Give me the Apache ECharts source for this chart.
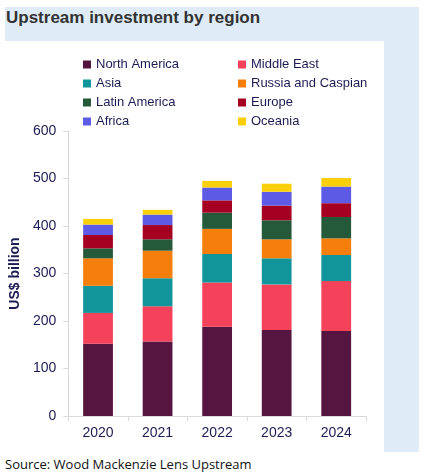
<!DOCTYPE html>
<html>
<head>
<meta charset="utf-8">
<script src="https://cdn.jsdelivr.net/npm/echarts@6/dist/echarts.min.js"></script>
<style>
  body { margin: 0; width: 424px; height: 475px; background: #fff; position: relative; overflow: hidden; font-family: Arial, "Liberation Sans", sans-serif; }
  #blue { position: absolute; left: 5px; top: 7px; width: 414px; height: 445px; background: #dfecf7; }
  #white { position: absolute; left: 5px; top: 41px; width: 379px; height: 411px; background: #fff; }
  #title { position: absolute; left: 6px; top: 8px; font-size: 17px; font-weight: bold; color: #333; }
  #source { position: absolute; left: 5px; top: 455px; font-size: 13px; color: #111; font-family: "Open Sans", sans-serif; }
  #main { position: absolute; left: 0; top: 0; width: 424px; height: 475px; }
</style>
</head>
<body>
<div id="blue"></div>
<div id="white"></div>
<div id="title">Upstream investment by region</div>
<div id="source">Source: Wood Mackenzie Lens Upstream</div>
<div id="main"></div>
<script>
// 数据
var years = ['2020', '2021', '2022', '2023', '2024'];
var northAmerica = [152, 157, 188, 181, 179];
var middleEast = [65, 74, 93, 96, 105];
var asia = [57, 59, 60, 55, 55];
var russiaCaspian = [58, 58, 53, 40, 35];
var latinAmerica = [21, 24, 34, 40, 45];
var europe = [28, 30, 26, 31, 29];
var africa = [22, 22, 27, 29, 35];
var oceania = [12, 10, 14, 17, 18];

var seriesList = [
    {name: 'North America', data: northAmerica, color: '#561440'},
    {name: 'Middle East', data: middleEast, color: '#f4425a'},
    {name: 'Asia', data: asia, color: '#11959a'},
    {name: 'Russia and Caspian', data: russiaCaspian, color: '#f57f0a'},
    {name: 'Latin America', data: latinAmerica, color: '#24593a'},
    {name: 'Europe', data: europe, color: '#a50022'},
    {name: 'Africa', data: africa, color: '#5d5ae6'},
    {name: 'Oceania', data: oceania, color: '#fbd00a'}
];

var legendText = {color: '#1c1c54', fontSize: 13, fontFamily: 'Arial'};
var chart = echarts.init(document.getElementById('main'));
var option = {
    animation: false,
    legend: [{
        data: ['North America', 'Asia', 'Latin America', 'Africa'],
        orient: 'vertical', left: 78, top: 53, itemGap: 6,
        itemWidth: 8, itemHeight: 8, icon: 'rect', textStyle: legendText
    }, {
        data: ['Middle East', 'Russia and Caspian', 'Europe', 'Oceania'],
        orient: 'vertical', left: 233, top: 53, itemGap: 6,
        itemWidth: 8, itemHeight: 8, icon: 'rect', textStyle: legendText
    }],
    grid: {left: 68, right: 58, top: 131, bottom: 59},
    xAxis: {
        type: 'category', data: years,
        axisLine: {lineStyle: {color: '#d9d9d9'}},
        axisTick: {show: true, lineStyle: {color: '#d9d9d9'}},
        axisLabel: {color: '#1c1c54', fontSize: 14, margin: 10}
    },
    yAxis: {
        type: 'value', min: 0, max: 600, interval: 100,
        name: 'US$ billion', nameLocation: 'middle', nameGap: 40,
        nameTextStyle: {fontWeight: 'bold', fontSize: 14, color: '#1c1c54'},
        axisLine: {show: true, lineStyle: {color: '#d9d9d9'}},
        axisTick: {show: true, lineStyle: {color: '#d9d9d9'}},
        axisLabel: {color: '#1c1c54', fontSize: 14, margin: 12},
        splitLine: {show: false}
    },
    series: seriesList.map(function (s) {
        return {
            name: s.name, type: 'bar', stack: 'total', data: s.data,
            barWidth: '50%', itemStyle: {color: s.color}
        };
    })
};
chart.setOption(option);
</script>
</body>
</html>
